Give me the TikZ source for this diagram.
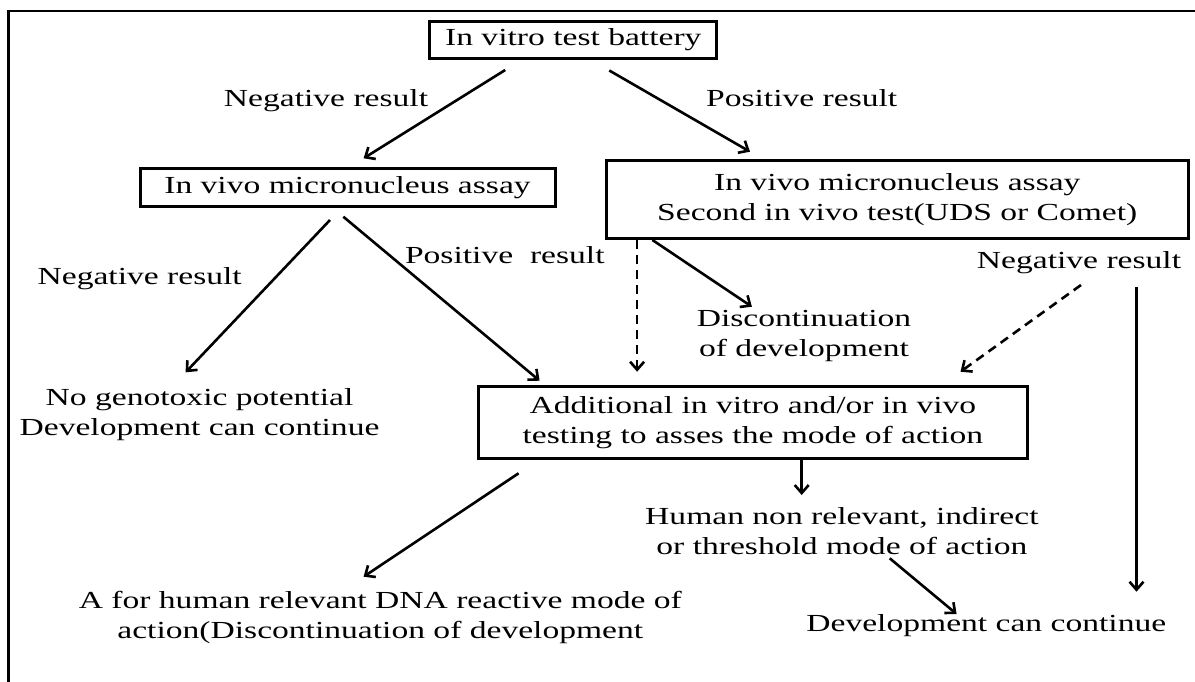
\documentclass[tikz,border=0pt]{standalone}
\usepackage{fontspec}
\setmainfont{Liberation Serif}[FakeStretch=1.37]
\usetikzlibrary{arrows.meta}
\begin{document}
\begin{tikzpicture}[x=1pt,y=-1pt,
  every node/.style={font=\fontsize{24.5}{30}\selectfont, inner sep=0pt, align=center},
  boxnode/.style={draw, line width=3pt, minimum width=#1},
  lbl/.style={anchor=base},
  arr/.style={line width=2.6pt, -{Straight Barb[length=8pt,width=14pt,line width=2.6pt]}},
  darr/.style={arr, dash pattern=on 9pt off 6pt}]
\useasboundingbox (0,0) rectangle (1195,681);
\fill[white] (0,0) rectangle (1195,681);
% outer frame (partially visible)
\draw[line width=2.4pt] (8.4,690) -- (8.4,11) -- (1200,11);

% boxes
\node[boxnode=286.7pt, minimum height=37.3pt] (top) at (573.3,39.7) {In vitro test battery};
\node[boxnode=415pt, minimum height=38.4pt] (lbox) at (347.5,187.5) {In vivo micronucleus assay};
\node[boxnode=581.6pt, minimum height=78.3pt] (rbox) at (897.3,199.2) {In vivo micronucleus assay\\Second in vivo test(UDS or Comet)};
\node[boxnode=549pt, minimum height=71.6pt] (add) at (752.9,422.5) {Additional in vitro and/or in vivo\\testing to asses the mode of action};

% labels
\node[lbl] (neg1) at (326,106.7) {Negative result};
\node[lbl] (pos1) at (801.7,106) {Positive result};
\node[lbl] (neg2) at (139.7,284) {Negative result};
\node[lbl] (pos2) at (504.8,263.3) {Positive\ \ result};
\node[lbl] (neg3) at (1079,268.3) {Negative result};

% outcome texts
\node (nogen) at (199.5,414.5) {No genotoxic potential\\Development can continue};
\node (disc) at (804,336) {Discontinuation\\of development};
\node (human) at (841.9,531) {Human non relevant, indirect\\or threshold mode of action};
\node[lbl] (devr) at (986.3,631.7) {Development can continue};
\node (dna) at (380.3,617.8) {A for human relevant DNA reactive mode of\\action(Discontinuation of development};

% connector end points
\coordinate (a1s) at (505.2,70);   \coordinate (a1e) at (363.6,158.3);
\coordinate (a2s) at (609.3,70.5); \coordinate (a2e) at (750,151.7);
\coordinate (a3s) at (330,220);    \coordinate (a3e) at (185.6,372.3);
\coordinate (a4s) at (343.3,216.7);\coordinate (a4e) at (539.6,380.7);
\coordinate (a5s) at (652.4,240);  \coordinate (a5e) at (751.9,306.7);
\coordinate (a6s) at (637.1,240);  \coordinate (a6e) at (637.1,371.7);
\coordinate (a7s) at (1081,285);   \coordinate (a7e) at (960.5,371.7);
\coordinate (a8s) at (1136.5,286.7);\coordinate (a8e) at (1136.5,591.7);
\coordinate (a9s) at (801.7,458.3);\coordinate (a9e) at (801.7,495);
\coordinate (a10s) at (889.7,558.3);\coordinate (a10e) at (956.6,614);
\coordinate (a11s) at (518.6,473.3);\coordinate (a11e) at (363.6,576.7);

\draw[arr] (a1s) -- (a1e);
\draw[arr] (a2s) -- (a2e);
\draw[arr] (a3s) -- (a3e);
\draw[arr] (a4s) -- (a4e);
\draw[arr] (a5s) -- (a5e);
\draw[darr] (a6s) -- (a6e);
\draw[darr] (a7s) -- (a7e);
\draw[arr] (a8s) -- (a8e);
\draw[arr] (a9s) -- (a9e);
\draw[arr] (a10s) -- (a10e);
\draw[arr] (a11s) -- (a11e);
\end{tikzpicture}
\end{document}
